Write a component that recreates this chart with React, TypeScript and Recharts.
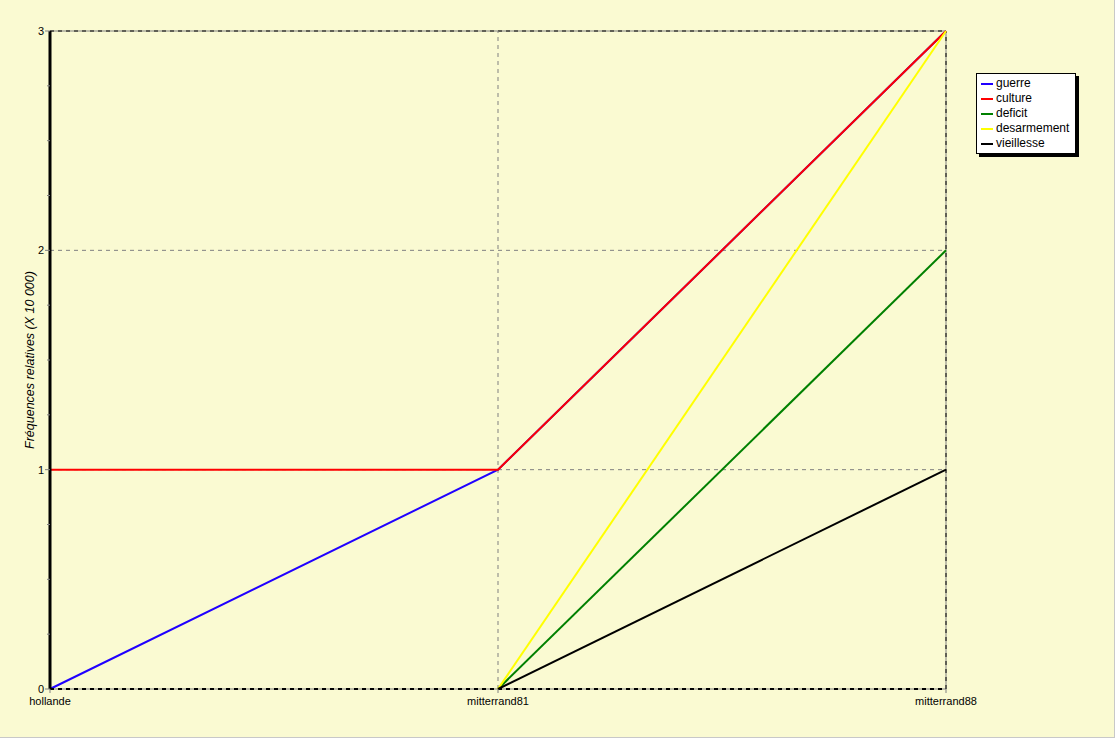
import { CartesianGrid, Legend, Line, LineChart, ReferenceLine, XAxis, YAxis } from 'recharts';

const categories = ['hollande', 'mitterrand81', 'mitterrand88'];
const guerre = [0, 1, 3];
const culture = [1, 1, 3];
const deficit = [null, 0, 2];
const desarmement = [null, 0, 3];
const vieillesse = [null, 0, 1];
const yTicks = [0, 0.25, 0.5, 0.75, 1, 1.25, 1.5, 1.75, 2, 2.25, 2.5, 2.75, 3];

const series = [
  { key: 'guerre', color: '#2000ff' },
  { key: 'culture', color: '#ff0000' },
  { key: 'deficit', color: '#008000' },
  { key: 'desarmement', color: '#ffff00' },
  { key: 'vieillesse', color: '#000000' },
];

const data = categories.map((name, i) => ({
  name,
  guerre: guerre[i],
  culture: culture[i],
  deficit: deficit[i],
  desarmement: desarmement[i],
  vieillesse: vieillesse[i],
}));

const font = '"Liberation Sans", Arial, sans-serif';

function YTick(props: any) {
  const { x, y, payload } = props;
  const major = Number.isInteger(payload.value);
  return (
    <g>
      <line x1={x - (major ? 5 : 3)} x2={x} y1={y} y2={y} stroke="#808080" />
      {major && (
        <text x={x - 6} y={y + 4} textAnchor="end" fontSize={11} fontFamily={font} fill="#000">
          {payload.value}
        </text>
      )}
    </g>
  );
}

// legend keeps the series order (recharts would sort by name)
function LegendBox() {
  return (
    <div
      style={{
        background: '#fff',
        border: '1px solid #000',
        boxShadow: '3px 3px 0 #000',
        padding: '2px 6px 2px 4px',
        fontFamily: font,
        fontSize: 12,
        lineHeight: '15px',
      }}
    >
      {series.map((s) => (
        <div key={s.key} style={{ display: 'flex', alignItems: 'center' }}>
          <span style={{ width: 12, height: 2, background: s.color, marginRight: 3 }} />
          <span>{s.key}</span>
        </div>
      ))}
    </div>
  );
}

export default function App() {
  return (
    <div
      style={{
        position: 'fixed',
        left: 0,
        top: 0,
        width: 1114,
        height: 737,
        background: '#fafad2',
        borderRight: '1px solid #c8c8c8',
        borderBottom: '1px solid #c8c8c8',
      }}
    >
      <LineChart width={1114} height={737} data={data} margin={{ top: 31, right: 168, bottom: 0, left: 0 }}>
        <CartesianGrid horizontal={false} vertical={false} />
        <XAxis
          dataKey="name"
          height={48}
          tickSize={4}
          tickLine={{ stroke: '#808080' }}
          axisLine={{ stroke: '#000', strokeWidth: 2, strokeDasharray: '4 4' }}
          tick={{ fontSize: 11, fontFamily: font, fill: '#000' }}
          tickMargin={4}
        />
        <YAxis
          domain={[0, 3]}
          ticks={yTicks}
          interval={0}
          width={50}
          tickSize={0}
          tickMargin={0}
          tickLine={false}
          axisLine={{ stroke: '#000', strokeWidth: 3 }}
          tick={<YTick />}
          label={{
            value: 'Fréquences relatives (X 10 000)',
            angle: -90,
            position: 'insideLeft',
            offset: 30,
            style: { fontSize: 12.5, fontStyle: 'italic', fontFamily: font, fill: '#000', textAnchor: 'middle' },
          }}
        />
        <ReferenceLine y={1} stroke="#808080" strokeDasharray="4 4" />
        <ReferenceLine y={2} stroke="#808080" strokeDasharray="4 4" />
        <ReferenceLine y={3} stroke="#808080" />
        <ReferenceLine y={3} stroke="#000" strokeDasharray="4 4" />
        <ReferenceLine y={0} stroke="#808080" />
        <ReferenceLine x="mitterrand81" stroke="#808080" strokeDasharray="4 4" />
        <ReferenceLine x="mitterrand88" stroke="#808080" />
        <ReferenceLine x="mitterrand88" stroke="#000" strokeDasharray="4 4" />
        {series.map((s) => (
          <Line
            key={s.key}
            dataKey={s.key}
            stroke={s.color}
            strokeWidth={2}
            dot={false}
            activeDot={false}
            isAnimationActive={false}
          />
        ))}
        <Legend
          content={<LegendBox />}
          layout="vertical"
          align="center"
          verticalAlign="middle"
          wrapperStyle={{ position: 'absolute', left: 976, top: 73, width: 'auto', height: 'auto' }}
        />
      </LineChart>
    </div>
  );
}
